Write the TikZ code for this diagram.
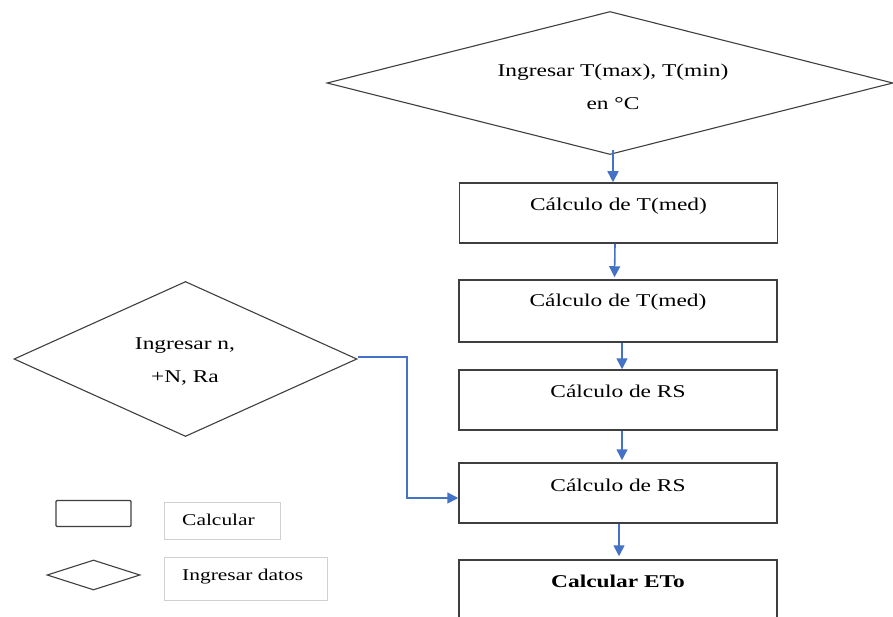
\documentclass[tikz,border=0pt]{standalone}
\usepackage{fontspec}
\setmainfont[FakeStretch=1.3]{Liberation Serif}
\usetikzlibrary{shapes.geometric,arrows.meta}
\definecolor{flowblue}{HTML}{4472C4}
\definecolor{edge}{HTML}{3F3F3F}
\definecolor{legedge}{HTML}{D0D0D0}
\tikzset{
  stepbox/.style={draw=edge, line width=1.5pt, rectangle, minimum width=318pt, minimum height=60pt, inner sep=0pt},
  inputshape/.style={draw=edge, line width=1.1pt, diamond, inner sep=0pt},
  txt/.style={font=\fontsize{18}{33}\selectfont, align=center, inner sep=0pt},
  legtxt/.style={font=\fontsize{16.5}{20}\selectfont, inner sep=0pt},
  legbox/.style={draw=legedge, line width=1pt, rectangle},
  flow/.style={draw=flowblue, line width=1.6pt, -{Triangle[length=11pt,width=11pt]}},
}
\begin{document}
\begin{tikzpicture}[x=1pt,y=-1pt]
  \useasboundingbox (0,0) rectangle (893,617);
  \clip (0,0) rectangle (893,617);
  \fill[white] (0,0) rectangle (893,617);

  % input of temperatures
  \node[inputshape, minimum width=566pt, minimum height=143pt] (tin) at (610,83) {};
  \node[txt] (tintext) at (613,87) {Ingresar T(max), T(min)\\en °C};

  % calculation chain
  \node[stepbox] (b1) at (618.5,213) {};
  \node[stepbox, minimum height=62pt] (b2) at (618,311) {};
  \node[stepbox] (b3) at (618,400) {};
  \node[stepbox] (b4) at (618,493) {};
  \node[stepbox] (b5) at (618,590) {};
  \node[txt] (t1) at ([yshift=-24pt]b1.north) {Cálculo de T(med)};
  \node[txt] (t2) at ([yshift=-23pt]b2.north) {Cálculo de T(med)};
  \node[txt] (t3) at ([yshift=-22pt]b3.north) {Cálculo de RS};
  \node[txt] (t4) at ([yshift=-23pt]b4.north) {Cálculo de RS};
  \node[txt, font=\fontsize{18}{33}\selectfont\bfseries] (t5) at ([yshift=-22pt]b5.north) {Calcular ETo};

  % input of n, N, Ra
  \node[inputshape, minimum width=343pt, minimum height=155pt] (nin) at (185.5,359) {};
  \node[txt] (nintext) at (185,361) {Ingresar n,\\+N, Ra};

  % connectors
  \draw[flow] ([xshift=3pt,yshift=5pt]tin.south) -- ([xshift=-5.5pt]b1.north);
  \draw[flow] ([xshift=-3.5pt]b1.south) -- ([xshift=-3.5pt,yshift=2pt]b2.north);
  \draw[flow] ([xshift=4pt]b2.south) -- ([xshift=4pt]b3.north);
  \draw[flow] ([xshift=4pt]b3.south) -- ([xshift=4pt,yshift=2pt]b4.north);
  \draw[flow] ([xshift=1pt]b4.south) -- ([xshift=1pt,yshift=3pt]b5.north);
  \coordinate (bend) at (407,357);
  \draw[flow] ([yshift=2pt]nin.east) -- (bend) |- ([yshift=-5pt]b4.west);

  % legend
  \node[draw=edge, line width=1.3pt, rounded corners=1pt, minimum width=75pt, minimum height=26pt, inner sep=0pt] (lrect) at (93.5,513.5) {};
  \node[legbox, minimum width=116pt, minimum height=37pt, inner sep=0pt] (lcalc) at (222,520.5) {};
  \node[legtxt, anchor=west] (lcalctext) at (182,520) {Calcular};
  \node[inputshape, minimum width=93pt, minimum height=30pt] (ldiam) at (93.5,575) {};
  \node[legbox, minimum width=163pt, minimum height=43pt, inner sep=0pt] (ling) at (245.5,578.5) {};
  \node[legtxt, anchor=west] (lingtext) at (182,577) {Ingresar datos};
\end{tikzpicture}
\end{document}
